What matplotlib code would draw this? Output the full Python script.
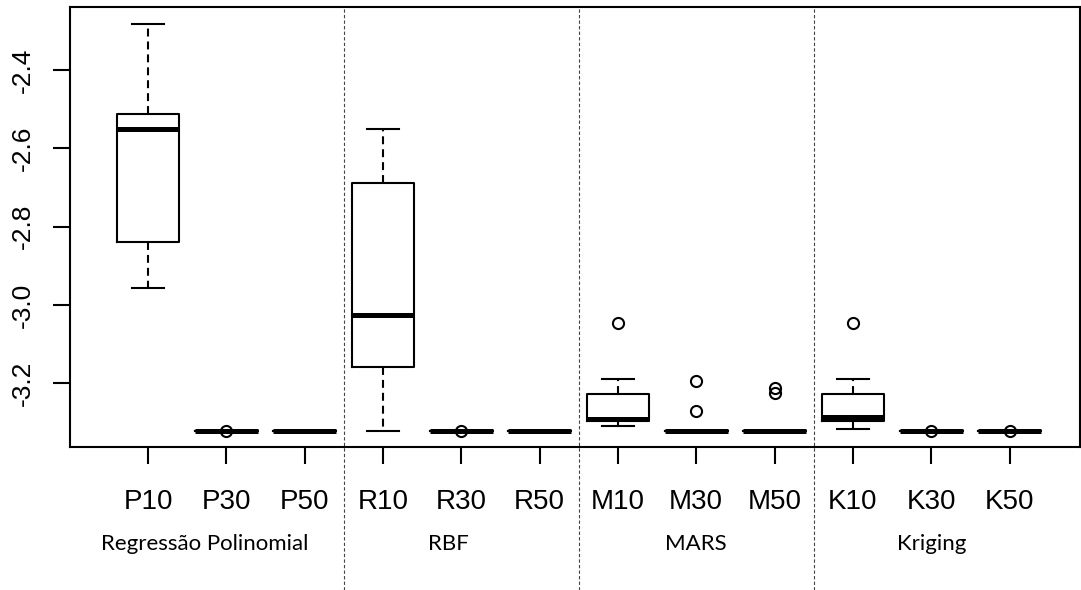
import matplotlib.pyplot as plt
from matplotlib.transforms import blended_transform_factory

plt.rcParams['font.family'] = ['Liberation Sans', 'DejaVu Sans']
plt.rcParams['axes.unicode_minus'] = False

labels = ["P10", "P30", "P50", "R10", "R30", "R50",
          "M10", "M30", "M50", "K10", "K30", "K50"]
groups = ["Regressão Polinomial", "RBF", "MARS", "Kriging"]
group_x = [1.73, 4.84, 8.0, 11.0]
dividers = [3.5, 6.5, 9.5]

whis_hi = [-2.282, -3.323, -3.323, -2.551, -3.323, -3.323,
           -3.189, -3.322, -3.322, -3.189, -3.322, -3.322]
q3 = [-2.512, -3.323, -3.323, -2.689, -3.323, -3.323,
      -3.228, -3.322, -3.322, -3.228, -3.322, -3.322]
med = [-2.550, -3.323, -3.323, -3.025, -3.323, -3.323,
       -3.292, -3.322, -3.322, -3.286, -3.322, -3.322]
q1 = [-2.839, -3.323, -3.323, -3.159, -3.323, -3.323,
      -3.297, -3.322, -3.322, -3.296, -3.322, -3.322]
whis_lo = [-2.956, -3.323, -3.323, -3.322, -3.323, -3.323,
           -3.310, -3.322, -3.322, -3.318, -3.322, -3.322]
outliers = [[], [-3.323], [], [], [-3.323], [],
            [-3.047], [-3.194, -3.272], [-3.212, -3.226],
            [-3.047], [-3.321], [-3.321]]

yticks = [-3.2, -3.0, -2.8, -2.6, -2.4]

stats = []
for i, lab in enumerate(labels):
    stats.append(dict(label=lab, whishi=whis_hi[i], q3=q3[i], med=med[i],
                      q1=q1[i], whislo=whis_lo[i], fliers=outliers[i]))

fig = plt.figure(figsize=(10.81, 5.90), dpi=100)
ax = fig.add_axes([70 / 1081, 143 / 590, 1010 / 1081, 440 / 590])

positions = list(range(1, len(labels) + 1))
ax.bxp(stats, positions=positions, widths=0.8, capwidths=0.4,
       boxprops=dict(color='black', lw=1.5),
       medianprops=dict(color='black', lw=3.6, solid_capstyle='butt'),
       whiskerprops=dict(color='black', lw=1.5, linestyle=(0, (3.8, 2.4))),
       capprops=dict(color='black', lw=1.5),
       flierprops=dict(marker='o', mfc='none', mec='black', ms=8, mew=1.5))

# group separators run from the top of the box down to the bottom edge
trans = blended_transform_factory(ax.transData, fig.transFigure)
for xd in dividers:
    ax.plot([xd, xd], [0, 583 / 590], transform=trans, clip_on=False,
            color='#444444', lw=0.8, linestyle=(0, (3, 2)))

for gx, name in zip(group_x, groups):
    ax.text(gx, 46 / 590, name, transform=trans, ha='center', va='center',
            fontsize=16, family=['Lato', 'DejaVu Sans'])

ax.set_xlim(0.004, 12.9)
ax.set_ylim(-3.363, -2.239)
ax.set_xticks(positions)
ax.set_xticklabels(labels, fontsize=20)
ax.set_yticks(yticks)
ax.set_yticklabels(["%.1f" % v for v in yticks], fontsize=19,
                   rotation=90, va='center')
ax.tick_params(axis='both', length=12, width=1.5, direction='out')
ax.tick_params(axis='x', pad=18)
ax.tick_params(axis='y', pad=13)
for sp in ax.spines.values():
    sp.set_linewidth(1.5)

fig.savefig('out.png', dpi=100)
